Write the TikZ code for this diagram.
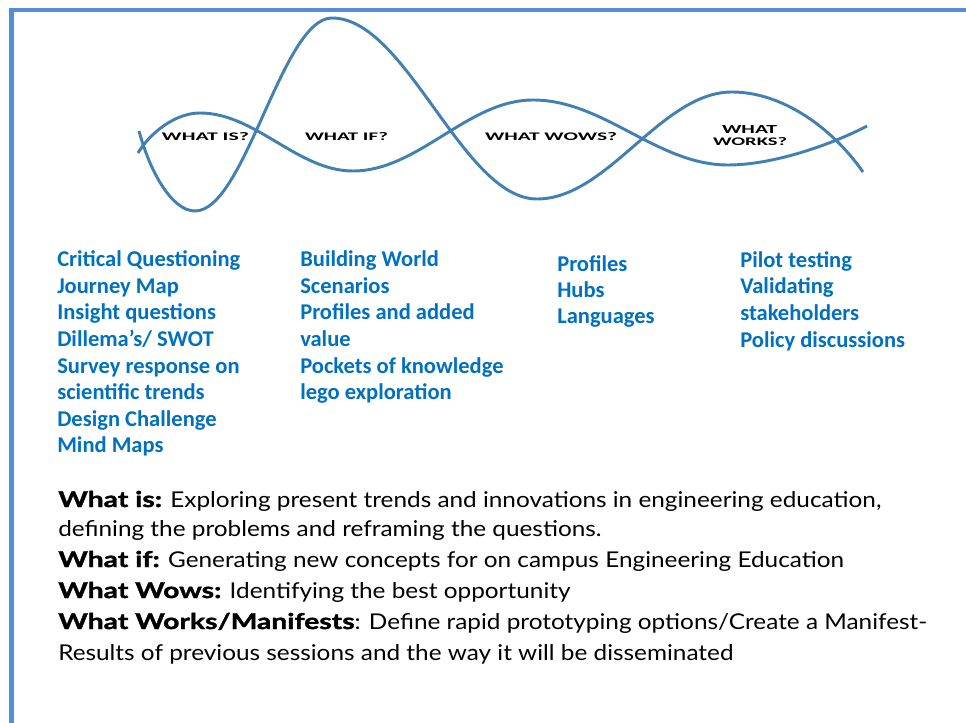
\documentclass[tikz,border=0pt]{standalone}
\usepackage{fontspec}
\setmainfont{Lato}
\newfontfamily\calfont{Carlito}
\newfontfamily\gillreg[FakeStretch=1.12]{Lato}
\newfontfamily\gillbold[FakeStretch=1.3, BoldFeatures={FakeBold=1.6}]{Lato}
\definecolor{framecol}{RGB}{85,142,213}
\definecolor{wavecol}{RGB}{66,128,180}
\definecolor{listcol}{RGB}{0,112,192}
\tikzset{
  framestyle/.style={draw=framecol, line width=3.4pt},
  wavestyle/.style={draw=wavecol, line width=2.2pt},
  wavelabel/.style={inner sep=0pt, anchor=base, text=black},
  listitem/.style={inner sep=0pt, anchor=base west, text=listcol, font=\calfont\bfseries\fontsize{16.9}{20}\selectfont},
  bodyline/.style={inner sep=0pt, anchor=base west, text=black, font=\gillreg\fontsize{16.3}{20}\selectfont}
}
\newcommand{\wlab}[2]{\resizebox{#1}{6pt}{\calfont\bfseries #2}}
\newcommand{\hd}[1]{{\gillbold\bfseries #1}}
\begin{document}
\begin{tikzpicture}[x=0.75pt, y=-0.75pt]
\useasboundingbox (0,0) rectangle (966,723);
% frame
\draw[framestyle] (11.5,723) -- (11.5,10) -- (966,10);
% wave A
\draw[wavestyle] (139,131) .. controls (150,172) and (172,211) .. (195,211)
  .. controls (245,211) and (282,18) .. (332,18)
  .. controls (406.5,18) and (462.5,199) .. (537,199)
  .. controls (608,199) and (661,92) .. (732,92)
  .. controls (780,92) and (830,125) .. (863,172);
% wave B
\draw[wavestyle] (138,153) .. controls (150,133) and (175,113) .. (200,113)
  .. controls (255.6,113) and (297.4,171) .. (353,171)
  .. controls (418.4,171) and (467.6,100) .. (533,100)
  .. controls (603.9,100) and (657.1,165) .. (728,165)
  .. controls (775,165) and (835,143) .. (867,126);
% wave labels
\node[wavelabel] (lis) at (205.5,140.7) {\wlab{65.25pt}{WHAT IS?}};
\node[wavelabel] (lif) at (346.5,140.7) {\wlab{62.25pt}{WHAT IF?}};
\node[wavelabel] (lwows) at (551,140.7) {\wlab{99pt}{WHAT WOWS?}};
\node[wavelabel] (lwhat) at (749.5,134) {\wlab{41.25pt}{WHAT}};
\node[wavelabel] (lworks) at (750,146) {\wlab{55.5pt}{WORKS?}};
% column 1
\node[listitem] (c1a) at (57,267) {Critical Questioning};
\node[listitem] (c1b) at (57,293.5) {Journey Map};
\node[listitem] (c1c) at (57,320) {Insight questions};
\node[listitem] (c1d) at (57,346.5) {Dillema’s/ SWOT};
\node[listitem] (c1e) at (57,373) {Survey response on};
\node[listitem] (c1f) at (57,399.5) {scientific trends};
\node[listitem] (c1g) at (57,426) {Design Challenge};
\node[listitem] (c1h) at (57,452.5) {Mind Maps};
% column 2
\node[listitem] (c2a) at (300,267) {Building World};
\node[listitem] (c2b) at (300,293.5) {Scenarios};
\node[listitem] (c2c) at (300,320) {Profiles and added};
\node[listitem] (c2d) at (300,346.5) {value};
\node[listitem] (c2e) at (300,373) {Pockets of knowledge};
\node[listitem] (c2f) at (300,399.5) {lego exploration};
% column 3
\node[listitem] (c3a) at (557,271.7) {Profiles};
\node[listitem] (c3b) at (557,297.5) {Hubs};
\node[listitem] (c3c) at (557,323.3) {Languages};
% column 4
\node[listitem] (c4a) at (740,268) {Pilot testing};
\node[listitem] (c4b) at (740,294) {Validating};
\node[listitem] (c4c) at (740,320.5) {stakeholders};
\node[listitem] (c4d) at (740,347) {Policy discussions};
% bottom text
\node[bodyline] (b1) at (58,507) {\hd{What is:} Exploring present trends and innovations in engineering education,};
\node[bodyline] (b2) at (58,536) {defining the problems and reframing the questions.};
\node[bodyline] (b3) at (58,567) {\hd{What if:} Generating new concepts for on campus Engineering Education};
\node[bodyline] (b4) at (58,598) {\hd{What Wows:} Identifying the best opportunity};
\node[bodyline] (b5) at (58,629) {\hd{What Works/Manifests}: Define rapid prototyping options/Create a Manifest-};
\node[bodyline] (b6) at (58,660) {Results of previous sessions and the way it will be disseminated};
\end{tikzpicture}
\end{document}
